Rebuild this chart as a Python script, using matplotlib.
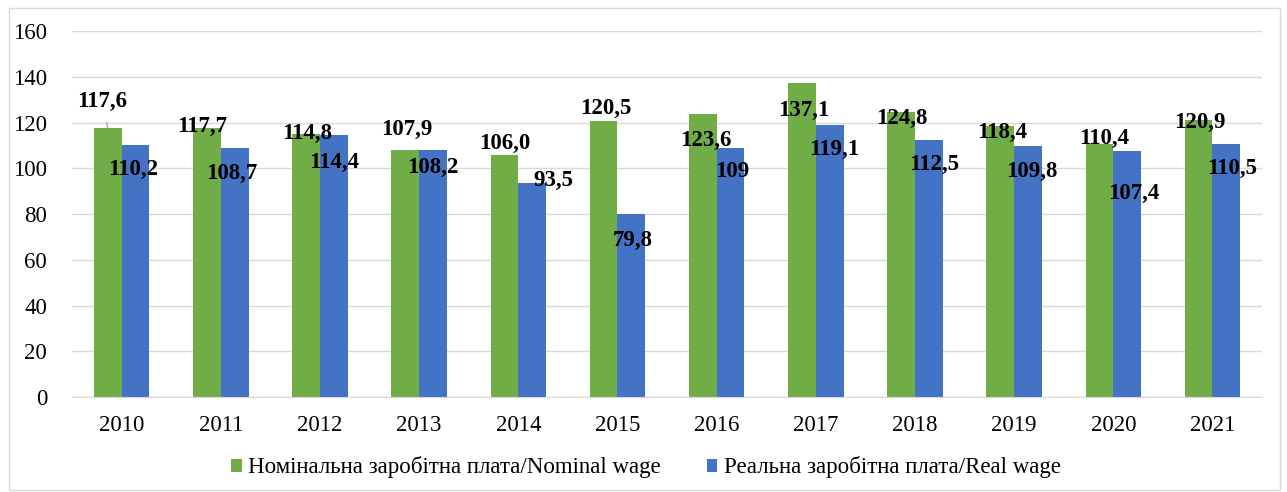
import matplotlib.pyplot as plt
from matplotlib.patches import Rectangle
import numpy as np

years = ["2010", "2011", "2012", "2013", "2014", "2015",
         "2016", "2017", "2018", "2019", "2020", "2021"]
nominal = [117.6, 117.7, 114.8, 107.9, 106.0, 120.5, 123.6, 137.1, 124.8, 118.4, 110.4, 120.9]
real = [110.2, 108.7, 114.4, 108.2, 93.5, 79.8, 109.0, 119.1, 112.5, 109.8, 107.4, 110.5]
nominal_txt = ["117,6", "117,7", "114,8", "107,9", "106,0", "120,5",
               "123,6", "137,1", "124,8", "118,4", "110,4", "120,9"]
real_txt = ["110,2", "108,7", "114,4", "108,2", "93,5", "79,8",
            "109", "119,1", "112,5", "109,8", "107,4", "110,5"]

# label offsets in pixels from the top of each bar (Excel-style placement)
nom_off = [(-6, 27), (-5, 1), (1, 1), (2, 21), (0, 11), (2, 13),
           (3, -26), (2, -27), (1, -7), (2, -6), (5, 6), (1, -2)]
real_off = [(-2, -25), (-3, -25), (0, -27), (0, -18), (21, 3), (1, -26),
            (2, -24), (5, -25), (5, -25), (4, -26), (7, -42), (6, -24)]

green = "#70AD47"
blue = "#4472C4"

plt.rcParams["font.family"] = ["Liberation Serif", "DejaVu Serif"]

fig = plt.figure(figsize=(12.87, 4.92), dpi=100)
ax = fig.add_axes([0.056, 0.193, 0.9246, 0.744])

x = np.arange(len(years))
w = 0.28
b1 = ax.bar(x - w / 2, nominal, w, color=green, label="Номінальна заробітна плата/Nominal wage", zorder=2)
b2 = ax.bar(x + w / 2, real, w, color=blue, label="Реальна заробітна плата/Real wage", zorder=2)

for i in range(len(years)):
    dx, dy = nom_off[i]
    kw = {}
    if i == 0:
        kw["arrowprops"] = dict(arrowstyle="-", color="#A6A6A6", lw=1, shrinkA=6, shrinkB=0)
    ax.annotate(nominal_txt[i], (x[i] - w / 2, nominal[i]), xytext=(dx, dy),
                textcoords="offset pixels", ha="center", va="center",
                fontsize=16.5, fontweight="bold", zorder=3, **kw)
    dx, dy = real_off[i]
    ax.annotate(real_txt[i], (x[i] + w / 2, real[i]), xytext=(dx, dy),
                textcoords="offset pixels", ha="center", va="center",
                fontsize=16.5, fontweight="bold", zorder=3)

ax.set_xlim(-0.5, len(years) - 0.5)
ax.set_ylim(0, 160)
ax.set_yticks(range(0, 161, 20))
ax.set_xticks(x)
ax.set_xticklabels(years)
ax.tick_params(axis="both", length=0, labelsize=16.5)
ax.tick_params(axis="x", pad=13)
ax.tick_params(axis="y", pad=18)
ax.grid(axis="y", color="#D9D9D9", lw=1, zorder=0)
for s in ["top", "right", "left"]:
    ax.spines[s].set_visible(False)
ax.spines["bottom"].set_color("#D9D9D9")

fig.legend(handles=[b1, b2], loc="center", bbox_to_anchor=(0.502, 0.05), ncol=2,
           frameon=False, prop={"family": "Liberation Serif", "size": 16.5},
           handlelength=0.45, handleheight=0.5, handletextpad=0.3, columnspacing=2.0)

fig.patches.append(Rectangle((9 / 1287, 2 / 492), 1271 / 1287, 482 / 492,
                             transform=fig.transFigure, fill=False,
                             edgecolor="#D9D9D9", lw=1))

fig.savefig("out.png", dpi=100)
